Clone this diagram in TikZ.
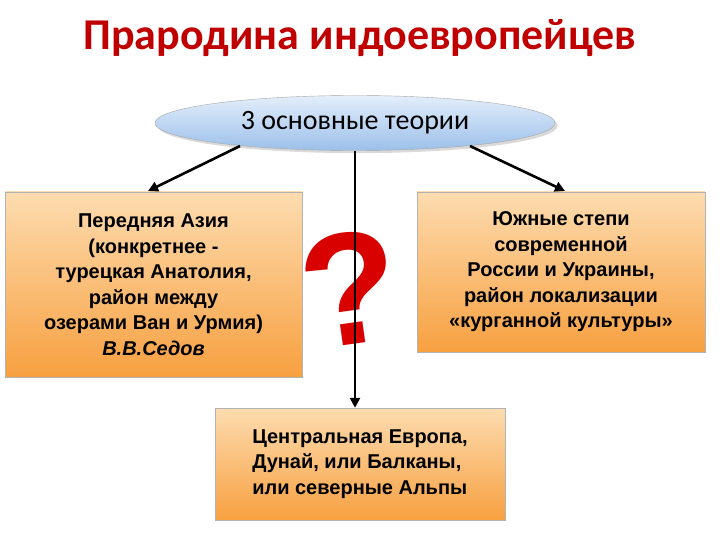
\documentclass[tikz,border=0pt]{standalone}
\usepackage{fontspec}
\setmainfont{Liberation Sans}
\newfontfamily\calib{Carlito}
\usetikzlibrary{shapes.geometric,arrows.meta,shadows}
\definecolor{ttl}{HTML}{C00000}
\definecolor{boxtop}{HTML}{FDDCB0}
\definecolor{boxbot}{HTML}{F7A040}
\definecolor{elltop}{HTML}{E3EEFB}
\definecolor{ellbot}{HTML}{9CC0EA}
\tikzset{
  box/.style={draw=black!30, top color=boxtop, bottom color=boxbot, align=center, font=\bfseries\fontsize{20}{25.5}\selectfont, inner sep=2pt},
  conn/.style={-{Triangle[length=10pt,width=10pt]}, line width=2.6pt}
}
\begin{document}
\begin{tikzpicture}[x=1pt,y=-1pt]
\useasboundingbox (0,0) rectangle (720,540);
\node (title) at (360,38) {\calib\bfseries\fontsize{44}{48}\selectfont\color{ttl}Прародина индоевропейцев};
\node[ellipse, draw=black!35, top color=elltop, bottom color=ellbot, minimum width=400pt, minimum height=55pt, drop shadow={opacity=0.3}] (ell) at (355,123) {\calib\fontsize{28}{30}\selectfont 3 основные теории};
\node[box, minimum width=297pt, minimum height=185pt] (L) at (153.5,284.5) {Передняя Азия\\(конкретнее -\\турецкая Анатолия,\\район между\\озерами Ван и Урмия)\\\itshape В.В.Седов};
\node[box, minimum width=288pt, minimum height=160pt] (R) at (561,272) {Южные степи\\современной\\России и Украины,\\район локализации\\«курганной культуры»};
\node[box, minimum width=290pt, minimum height=112pt, align=left] (B) at (360,464) {Центральная Европа,\\Дунай, или Балканы,\\или северные Альпы};
\node[rotate=8] (q) at (350,288) {\bfseries\fontsize{160}{160}\selectfont\color{red!85!black}?};
\coordinate (a1) at (240,146);
\coordinate (a2) at (470,146);
\coordinate (a3) at (355,151);
\draw[conn] (a1) -- (148,191);
\draw[conn] (a2) -- (565,191);
\draw[conn] (a3) -- (B.north -| a3);
\end{tikzpicture}
\end{document}
